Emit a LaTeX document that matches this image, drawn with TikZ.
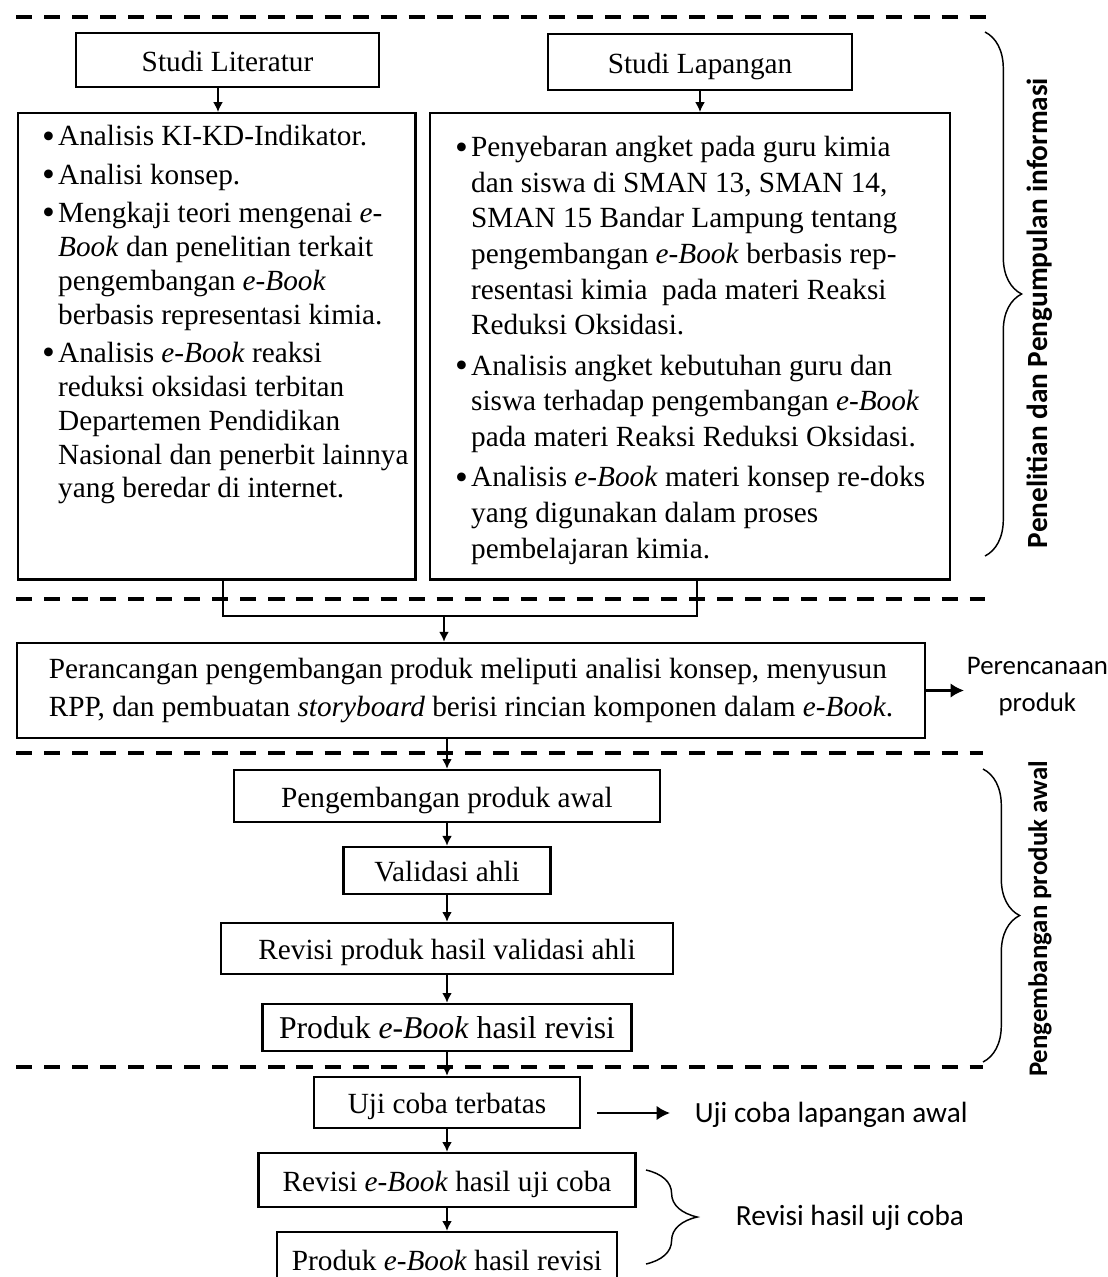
\documentclass[tikz,border=0pt]{standalone}
\usepackage{fontspec}
\setmainfont{Liberation Serif}
\newfontfamily\calfont{Carlito}
\usetikzlibrary{arrows.meta,decorations.pathreplacing,calc}

\tikzset{
    box/.style={draw, line width=1pt, inner sep=0pt, align=center, text height=10pt, text depth=0.6pt},
    bigbox/.style={draw, line width=1pt, inner sep=0pt},
    arr/.style={-{Latex[length=4pt,width=4pt]}, line width=0.7pt},
    bigarr/.style={-{Latex[length=5.5pt,width=6pt]}, line width=1.2pt},
    sekat/.style={line width=1.6pt, dash pattern=on 6.6pt off 4.9pt},
    kurung/.style={decorate, decoration={brace, amplitude=#1}, line width=0.6pt},
    ket/.style={font=\calfont\fontsize{12}{14}\selectfont, inner sep=1pt},
}
\newcommand{\blt}{\makebox[6.6pt][l]{\raisebox{-1pt}{\scalebox{1.25}{\textbullet}}}}

\begin{document}
\begin{tikzpicture}[x=0.41pt, y=-0.41pt, font=\fontsize{12}{13.9}\selectfont]
    \useasboundingbox (0,0) rectangle (1107,1277);

    \draw[sekat] (16,17) -- (988,17);
    \draw[sekat] (16,599) -- (985,599);
    \draw[sekat] (16,753) -- (983,753);
    \draw[sekat] (16,1067) -- (983,1067);

    \node[box, minimum width=124.2pt, minimum height=22.1pt] (lit) at (227.5,60) {Studi Literatur};
    \node[box, minimum width=124.6pt, minimum height=23pt] (lap) at (700,62) {Studi Lapangan};

    \node[bigbox, anchor=north west] (litbox) at (17,112) {%
        \begin{minipage}[t][191.1pt][t]{162.8pt}
        \vspace{3.6pt}
        \begin{tabular}{@{\hspace{9.8pt}}l@{}l@{}}
            \blt & Analisis KI-KD-Indikator.\\[1.8pt]
            \blt & Analisi konsep.\\[1.8pt]
            \blt & Mengkaji teori mengenai \textit{e-}\\
                 & \textit{Book} dan penelitian terkait\\
                 & pengembangan \textit{e-Book}\\
                 & berbasis representasi kimia.\\[1.8pt]
            \blt & Analisis \textit{e-Book} reaksi\\
                 & reduksi oksidasi terbitan\\
                 & Departemen Pendidikan\\
                 & Nasional dan penerbit lainnya\\
                 & yang beredar di internet.
        \end{tabular}
        \end{minipage}};

    \node[bigbox, anchor=north west] (lapbox) at (429,112) {%
        \begin{minipage}[t][191.1pt][t]{213.2pt}
        \fontsize{12}{14.6}\selectfont
        \vspace{7.6pt}
        \begin{tabular}{@{\hspace{10.2pt}}l@{}l@{}}
            \blt & Penyebaran angket pada guru kimia\\
                 & dan siswa di SMAN 13, SMAN 14,\\
                 & SMAN 15 Bandar Lampung tentang\\
                 & pengembangan \textit{e-Book} berbasis rep-\\
                 & resentasi kimia \ pada materi Reaksi\\
                 & Reduksi Oksidasi.\\[2pt]
            \blt & Analisis angket kebutuhan guru dan\\
                 & siswa terhadap pengembangan \textit{e-Book}\\
                 & pada materi Reaksi Reduksi Oksidasi.\\[2pt]
            \blt & Analisis \textit{e-Book} materi konsep re-doks\\
                 & yang digunakan dalam proses\\
                 & pembelajaran kimia.
        \end{tabular}
        \end{minipage}};

    \coordinate (litx) at (218,100);
    \draw[arr] (lit.south -| litx) -- (litbox.north -| litx);
    \draw[arr] (lap) -- (lap |- lapbox.north);

    \node[draw, line width=1pt, inner sep=0pt, align=left, minimum width=372.3pt, minimum height=39pt,
          font=\fontsize{12}{15.2}\selectfont] (ranc) at (471,690.5)
        {Perancangan pengembangan produk meliputi analisi konsep, menyusun\\
         RPP, dan pembuatan \textit{storyboard} berisi rincian komponen dalam \textit{e-Book}.};

    \coordinate (jl) at (223,616);
    \coordinate (jr) at (697,616);
    \coordinate (jm) at (444,616);
    \draw[line width=0.7pt] (litbox.south -| jl) -- (jl) -- (jr) -- (lapbox.south -| jr);
    \draw[arr] (jm) -- (jm |- ranc.north);

    \node[ket, font=\calfont\fontsize{11}{15.2}\selectfont, align=center, anchor=west] (renc) at (964,687) {Perencanaan\\produk};
    \draw[bigarr] (ranc.east) -- (ranc.east -| renc.west);

    \node[box, minimum width=174.7pt, minimum height=21.3pt] (awal) at (447,796) {Pengembangan produk awal};
    \node[box, minimum width=84.9pt, minimum height=19.3pt] (valid) at (447,870.5) {Validasi ahli};
    \node[box, minimum width=185.3pt, minimum height=20.9pt] (revval) at (447,948.5) {Revisi produk hasil validasi ahli};
    \node[box, minimum width=151.3pt, minimum height=19.3pt, font=\fontsize{13}{15}\selectfont] (prod1) at (447,1027.5) {Produk \textit{e-Book} hasil revisi};
    \node[box, minimum width=109.1pt, minimum height=20.9pt] (uji) at (447,1102.5) {Uji coba terbatas};
    \node[box, minimum width=154.6pt, minimum height=22.1pt] (revuji) at (447,1180) {Revisi \textit{e-Book} hasil uji coba};
    \node[box, minimum width=139.4pt, minimum height=22.1pt] (prod2) at (447,1259) {Produk \textit{e-Book} hasil revisi};

    \draw[arr] (ranc.south -| awal) -- (awal);
    \draw[arr] (awal) -- (valid);
    \draw[arr] (valid) -- (revval);
    \draw[arr] (revval) -- (prod1);
    \draw[arr] (prod1) -- (uji);
    \draw[arr] (uji) -- (revuji);
    \draw[arr] (revuji) -- (prod2);

    \node[ket, anchor=west] (ujilap) at (692,1115) {Uji coba lapangan awal};
    \coordinate (ujiout) at (597,1113);
    \draw[bigarr, shorten >=9pt] (ujiout) -- (ujiout -| ujilap.west);

    \draw[kurung=15pt] (985,32) -- (985,556);
    \node[ket, font=\calfont\bfseries\fontsize{12}{14}\selectfont, rotate=90] (info) at (1040,313) {Penelitian dan Pengumpulan informasi};

    \draw[kurung=15pt] (983,769) -- (983,1062);
    \node[ket, font=\calfont\bfseries\fontsize{11}{14}\selectfont, rotate=90] (pawal) at (1040,919) {Pengembangan produk awal};

    \draw[kurung=21pt] (646,1170) -- (646,1264);
    \node[ket, anchor=west] (revket) at (733,1218) {Revisi hasil uji coba};
\end{tikzpicture}
\end{document}
